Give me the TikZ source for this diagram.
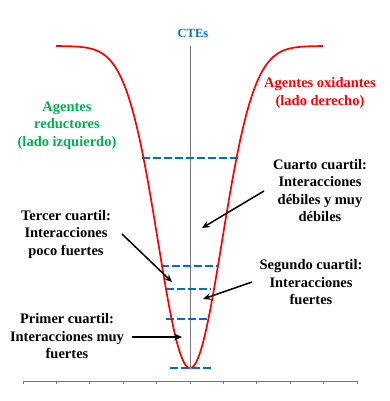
\documentclass[tikz,border=0pt]{standalone}
\usepackage{fontspec}
\setmainfont{Liberation Serif}
\usetikzlibrary{arrows.meta}
\definecolor{cblue}{RGB}{0,112,192}
\definecolor{cgreen}{RGB}{0,176,80}
\definecolor{cred}{RGB}{255,0,0}
\definecolor{cgray}{RGB}{118,118,118}
\definecolor{cpink}{RGB}{190,90,150}
\tikzset{
  lbl/.style={align=center, inner sep=0pt, font=\fontsize{14.5}{17.5}\selectfont\bfseries},
  quart/.style={cblue, line width=1.7pt, dash pattern=on 7.5pt off 3.5pt},
  arr/.style={-{Stealth[length=8pt,width=7pt,inset=3pt]}, line width=1.5pt, black},
  axisline/.style={cgray, line width=0.9pt}
}
\begin{document}
\begin{tikzpicture}[x=1pt,y=-1pt]
\useasboundingbox (0,0) rectangle (389,401);
% axes
\coordinate (vtop) at (190,46);
\coordinate (vbot) at (190,368);
\draw[axisline] (vtop) -- (vbot);
\coordinate (hl) at (23,381);
\coordinate (hr) at (357,381);
\draw[axisline] (hl) -- (hr);
\foreach \i in {0,...,10} {
  \draw[axisline] ({23+\i*33.4},381) -- ({23+\i*33.4},384);
}
% quartile lines
\draw[quart] (142,158) -- (238,158);
\draw[quart] (161,266) -- (217,266);
\draw[quart] (166,289) -- (211,289);
\draw[quart] (166,319) -- (210,319);
\draw[quart] (170,368) -- (214,368);
% curve
\draw[cred, line width=1.7pt, line join=round] plot[domain=56:323, samples=240, smooth]
  (\x, {368 - 322*(1-exp(-0.5*((\x-190)/32)^2))});
\fill[cpink] (vbot) circle (1.6pt);
% labels
\node[lbl, cblue, font=\fontsize{12.5}{15}\selectfont\bfseries] (ctes) at (193,33) {CTEs};
\node[lbl, cred] (ox) at (320,93) {Agentes oxidantes\\(lado derecho)};
\node[lbl, cgreen] (red) at (67,125.5) {Agentes\\reductores\\(lado izquierdo)};
\node[lbl] (q4) at (320,190.5) {Cuarto cuartil:\\Interacciones\\débiles y muy\\débiles};
\node[lbl] (q3) at (66,234.5) {Tercer cuartil:\\Interacciones\\poco fuertes};
\node[lbl] (q2) at (311,282.5) {Segundo cuartil:\\Interacciones\\fuertes};
\node[lbl] (q1) at (67,336.5) {Primer cuartil:\\Interacciones muy\\fuertes};
% arrows
\coordinate (a4s) at (264,191);
\coordinate (a4e) at (202,228);
\coordinate (a3s) at (122,234);
\coordinate (a3e) at (172,282);
\coordinate (a2s) at (252,282);
\coordinate (a2e) at (203,299);
\coordinate (a1s) at (132,337);
\coordinate (a1e) at (182,337);
\draw[arr] (a4s) -- (a4e);
\draw[arr] (a3s) -- (a3e);
\draw[arr] (a2s) -- (a2e);
\draw[arr] (a1s) -- (a1e);
\end{tikzpicture}
\end{document}
